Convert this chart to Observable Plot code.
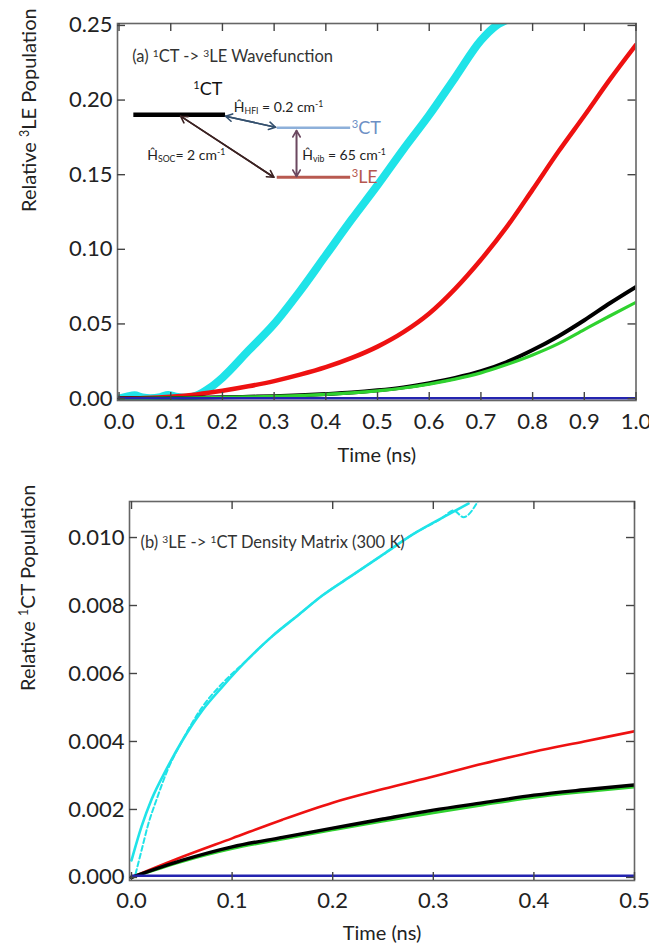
<!DOCTYPE html>
<html><head><meta charset="utf-8">
<script src="https://cdn.jsdelivr.net/npm/d3@7"></script>
<script src="https://cdn.jsdelivr.net/npm/@observablehq/plot@0.6"></script>
<style>
body{margin:0;background:#fff;width:649px;height:943px;overflow:hidden}
#chart svg{display:block}
</style></head><body><div id="chart"></div>
<script>
// ---------- Panel (a) data: 1CT -> 3LE wavefunction ----------
const tA = [0,0.05,0.1,0.15,0.2,0.25,0.3,0.35,0.4,0.45,0.5,0.55,0.6,0.65,0.7,0.75,0.8,0.85,0.9,0.95,1.0];
const redA   = [0,0.0003,0.0012,0.0028,0.0052,0.0082,0.0117,0.0160,0.0210,0.0272,0.0348,0.0445,0.057,0.0735,0.093,0.115,0.140,0.1655,0.1895,0.214,0.237];
const blackA = [0,0.0001,0.0003,0.0005,0.0008,0.0012,0.0016,0.0022,0.003,0.004,0.0055,0.0075,0.0103,0.0138,0.0183,0.0245,0.0325,0.0418,0.0525,0.064,0.0748];
const greenA = [0,0.0001,0.0003,0.0005,0.0008,0.0011,0.0015,0.002,0.0028,0.0038,0.0052,0.0071,0.0097,0.013,0.0172,0.0228,0.0292,0.0368,0.0462,0.0555,0.0645];
const blueA  = [0.0002,0.0002,0.0002,0.0002,0.0002,0.0002,0.0002,0.0002,0.0002,0.0002,0.0002,0.0002,0.0002,0.0002,0.0002,0.0002,0.0002,0.0002,0.0002,0.0002,0.0002];
const tCyanA = [0,0.015,0.03,0.045,0.06,0.08,0.095,0.11,0.13,0.15,0.175,0.2,0.25,0.3,0.35,0.4,0.45,0.5,0.55,0.6,0.65,0.7,0.73,0.76,0.79];
const cyanA  = [0,0.0012,0.0022,0.0008,0.0002,0.0010,0.0024,0.0012,0.0006,0.002,0.007,0.014,0.032,0.050,0.072,0.096,0.120,0.143,0.167,0.190,0.215,0.240,0.250,0.255,0.258];
const xTicksA = [0,0.1,0.2,0.3,0.4,0.5,0.6,0.7,0.8,0.9,1.0];
const yTicksA = [0,0.05,0.10,0.15,0.20,0.25];

// inset energy-level diagram (data units of panel a)
const levelNames = ["^{1}CT","^{3}CT","^{3}LE"];
const levelStart = [0.0286,0.306,0.306];
const levelEnd   = [0.206,0.448,0.448];
const levelE     = [0.1901,0.1814,0.1483];
const couplingNames = ["Ĥ_{HFI} = 0.2 cm^{-1}","Ĥ_{SOC}= 2 cm^{-1}","Ĥ_{vib} = 65 cm^{-1}"];
const couplingFrom = [[0.206,0.1892],[0.119,0.1892],[0.3433,0.1796]];
const couplingTo   = [[0.3027,0.1818],[0.2994,0.1483],[0.3433,0.1488]];
const couplingLabelAt = [[0.222,0.1953],[0.0545,0.1629],[0.3543,0.1629]];
const titleA = "(a) ^{1}CT -> ^{3}LE Wavefunction";
const titleAAt = [0.0255,0.2288];

// ---------- Panel (b) data: 3LE -> 1CT density matrix ----------
const tB = [0,0.05,0.1,0.15,0.2,0.25,0.3,0.35,0.4,0.45,0.5];
const redB   = [0,0.0006,0.00115,0.0017,0.0022,0.0026,0.00297,0.00335,0.0037,0.0040,0.0043];
const blackB = [0,0.0005,0.0009,0.00118,0.00145,0.00172,0.00198,0.0022,0.00242,0.00258,0.00272];
const greenB = [0,0.00047,0.00085,0.00113,0.0014,0.00166,0.0019,0.00214,0.00236,0.00252,0.00266];
const blueB  = [0.00005,0.00005,0.00005,0.00005,0.00005,0.00005,0.00005,0.00005,0.00005,0.00005,0.00005];
const tCyanB = [0,0.01,0.02,0.035,0.05,0.07,0.09,0.115,0.14,0.165,0.19,0.22,0.25,0.28,0.31,0.335];
const cyanB  = [0.0005,0.0015,0.0023,0.0032,0.0040,0.0049,0.0056,0.0064,0.0071,0.0077,0.0083,0.0089,0.0095,0.0101,0.0106,0.0110];
const tCyanBd = [0.004,0.01,0.016,0.025,0.035,0.05,0.07,0.09,0.115,0.14,0.165,0.19,0.22,0.25,0.28,0.31,0.32,0.33,0.345];
const cyanBd  = [0.0001,0.0008,0.0015,0.0023,0.0031,0.0040,0.0050,0.0057,0.0064,0.0071,0.0077,0.0083,0.0089,0.0095,0.0101,0.0106,0.0108,0.0106,0.0111];
const xTicksB = [0,0.1,0.2,0.3,0.4,0.5];
const yTicksB = [0,0.002,0.004,0.006,0.008,0.010];
const titleB = "(b) ^{3}LE -> ^{1}CT Density Matrix (300 K)";
const titleBAt = [0.009,0.00985];

// ---------- helpers ----------
const rows = (ts, vs) => ts.map((t, i) => ({t, v: vs[i]}));
const COL = {cyan:"#1fe3e8", red:"#ee1111", black:"#000000", green:"#2fd22f", blue:"#2424b0"};
const FONT = "Lato, 'Open Sans', sans-serif";
const CURVE = "monotone-x";

function richify(svg) {
  svg.querySelectorAll("text").forEach(t => {
    const s = t.textContent;
    if (!/[\^_]\{/.test(s)) return;
    const re = /([\^_])\{([^}]*)\}/g;
    const parts = []; let last = 0, m;
    while ((m = re.exec(s))) {
      if (m.index > last) parts.push({s: s.slice(last, m.index)});
      parts.push({s: m[2], k: m[1]});
      last = re.lastIndex;
    }
    if (last < s.length) parts.push({s: s.slice(last)});
    while (t.firstChild) t.removeChild(t.firstChild);
    for (const p of parts) {
      const ts = document.createElementNS("http://www.w3.org/2000/svg", "tspan");
      ts.textContent = p.s;
      if (p.k) {
        ts.setAttribute("font-size", "62%");
        ts.setAttribute("baseline-shift", p.k === "^" ? "55%" : "-25%");
      }
      t.appendChild(ts);
    }
  });
}

function frameTicks(xt, yt, innerW, innerH, len) {
  const st = {stroke:"#444", strokeWidth:1.4};
  return [
    Plot.tickX(xt, {x: d => d, insetTop: innerH - len, ...st}),
    Plot.tickX(xt, {x: d => d, insetBottom: innerH - len, ...st}),
    Plot.tickY(yt, {y: d => d, insetRight: innerW - len, ...st}),
    Plot.tickY(yt, {y: d => d, insetLeft: innerW - len, ...st})
  ];
}

// ---------- Panel (a) ----------
const WA = 649, HA = 478, mlA = 117, mrA = 13.5, mtA = 23, mbA = 78;
const plotA = Plot.plot({
  width: WA, height: HA,
  marginLeft: mlA, marginRight: mrA, marginTop: mtA, marginBottom: mbA,
  style: {fontFamily: FONT, fontSize: "22px", color: "#222", background: "#fff", overflow: "visible"},
  x: {domain: [-0.003, 1.0], label: null},
  y: {domain: [-0.0013, 0.2513], label: null},
  marks: [
    Plot.line(rows(tCyanA, cyanA), {x:"t", y:"v", stroke: COL.cyan, strokeWidth: 8, curve: CURVE, clip: true}),
    Plot.line(rows(tA, redA), {x:"t", y:"v", stroke: COL.red, strokeWidth: 4.5, curve: CURVE, clip: true}),
    Plot.line(rows(tA, blackA), {x:"t", y:"v", stroke: COL.black, strokeWidth: 4, curve: CURVE, clip: true}),
    Plot.line(rows(tA, greenA), {x:"t", y:"v", stroke: COL.green, strokeWidth: 3.2, curve: CURVE, clip: true}),
    Plot.line(rows(tA, blueA), {x:"t", y:"v", stroke: COL.blue, strokeWidth: 2.5, clip: true}),
    // inset diagram
    Plot.ruleY(d3.range(3), {x1: i => levelStart[i], x2: i => levelEnd[i], y: i => levelE[i],
      stroke: i => ["#000","#8db0da","#b85a50"][i], strokeWidth: i => [4.5,2.6,3.2][i]}),
    Plot.text(d3.range(3), {x: i => [0.1416, levelEnd[1], levelEnd[2]][i], y: i => [0.2071, levelE[1], levelE[2]][i],
      text: i => levelNames[i], textAnchor: "start", dx: 1, fontSize: 18,
      fill: i => ["#111","#6d8fc5","#b5574f"][i]}),
    Plot.arrow(d3.range(3), {x1: i => couplingFrom[i][0], y1: i => couplingFrom[i][1], x2: i => couplingTo[i][0], y2: i => couplingTo[i][1],
      stroke: i => ["#34506e","#3b2222","#6b4860"][i], strokeWidth: 1.6, headLength: 7}),
    Plot.arrow(d3.range(3), {x1: i => couplingTo[i][0], y1: i => couplingTo[i][1], x2: i => couplingFrom[i][0], y2: i => couplingFrom[i][1],
      stroke: i => ["#34506e","#3b2222","#6b4860"][i], strokeWidth: 1.6, headLength: 7}),
    Plot.text(d3.range(3), {x: i => couplingLabelAt[i][0], y: i => couplingLabelAt[i][1], text: i => couplingNames[i],
      textAnchor: "start", fontSize: 14, fill: "#222"}),
    Plot.text([titleA], {x: titleAAt[0], y: titleAAt[1], text: d => d, textAnchor: "start", fontSize: 16.5, fill: "#333"}),
    Plot.frame({stroke: "#666", strokeWidth: 1.6}),
    ...frameTicks(xTicksA, yTicksA, WA - mlA - mrA, HA - mtA - mbA, 8),
    Plot.axisX(xTicksA, {tickSize: 0, tickPadding: 13, tickFormat: d3.format(".1f"), label: null, fontSize: 22}),
    Plot.axisY(yTicksA, {tickSize: 0, tickPadding: 5, tickFormat: d3.format(".2f"), label: null, fontSize: 22}),
    Plot.text(["Relative ^{3}LE Population"], {text: d => d, frameAnchor: "left", dx: -88, rotate: -90, fontSize: 20, fill: "#222"}),
    Plot.text(["Time (ns)"], {text: d => d, frameAnchor: "bottom", dy: 55, lineAnchor: "middle", fontSize: 20, fill: "#222"})
  ]
});

// ---------- Panel (b) ----------
const WB = 649, HB = 465, mlB = 129, mrB = 15, mtB = 23, mbB = 63;
const plotB = Plot.plot({
  width: WB, height: HB,
  marginLeft: mlB, marginRight: mrB, marginTop: mtB, marginBottom: mbB,
  style: {fontFamily: FONT, fontSize: "22px", color: "#222", background: "#fff", overflow: "visible"},
  x: {domain: [-0.002, 0.5], label: null},
  y: {domain: [-0.00009, 0.01106], label: null},
  marks: [
    Plot.line(rows(tCyanBd, cyanBd), {x:"t", y:"v", stroke: COL.cyan, strokeWidth: 2, strokeDasharray: "5,3", curve: CURVE, clip: true}),
    Plot.line(rows(tCyanB, cyanB), {x:"t", y:"v", stroke: COL.cyan, strokeWidth: 2.6, curve: CURVE, clip: true}),
    Plot.line(rows(tB, redB), {x:"t", y:"v", stroke: COL.red, strokeWidth: 2.6, curve: CURVE, clip: true}),
    Plot.line(rows(tB, greenB), {x:"t", y:"v", stroke: COL.green, strokeWidth: 3, curve: CURVE, clip: true}),
    Plot.line(rows(tB, blackB), {x:"t", y:"v", stroke: COL.black, strokeWidth: 3.4, curve: CURVE, clip: true}),
    Plot.line(rows(tB, blueB), {x:"t", y:"v", stroke: COL.blue, strokeWidth: 2.4, clip: true}),
    Plot.text([titleB], {x: titleBAt[0], y: titleBAt[1], text: d => d, textAnchor: "start", fontSize: 16.5, fill: "#333"}),
    Plot.frame({stroke: "#666", strokeWidth: 1.6}),
    ...frameTicks(xTicksB, yTicksB, WB - mlB - mrB, HB - mtB - mbB, 8),
    Plot.axisX(xTicksB, {tickSize: 0, tickPadding: 12, tickFormat: d3.format(".1f"), label: null, fontSize: 22}),
    Plot.axisY(yTicksB, {tickSize: 0, tickPadding: 5, tickFormat: d3.format(".3f"), label: null, fontSize: 22}),
    Plot.text(["Relative ^{1}CT Population"], {text: d => d, frameAnchor: "left", dx: -101, rotate: -90, fontSize: 20, fill: "#222"}),
    Plot.text(["Time (ns)"], {text: d => d, frameAnchor: "bottom", dy: 53, lineAnchor: "middle", fontSize: 20, fill: "#222"})
  ]
});

const root = document.getElementById("chart");
root.appendChild(plotA);
root.appendChild(plotB);
richify(plotA);
richify(plotB);
</script></body></html>
